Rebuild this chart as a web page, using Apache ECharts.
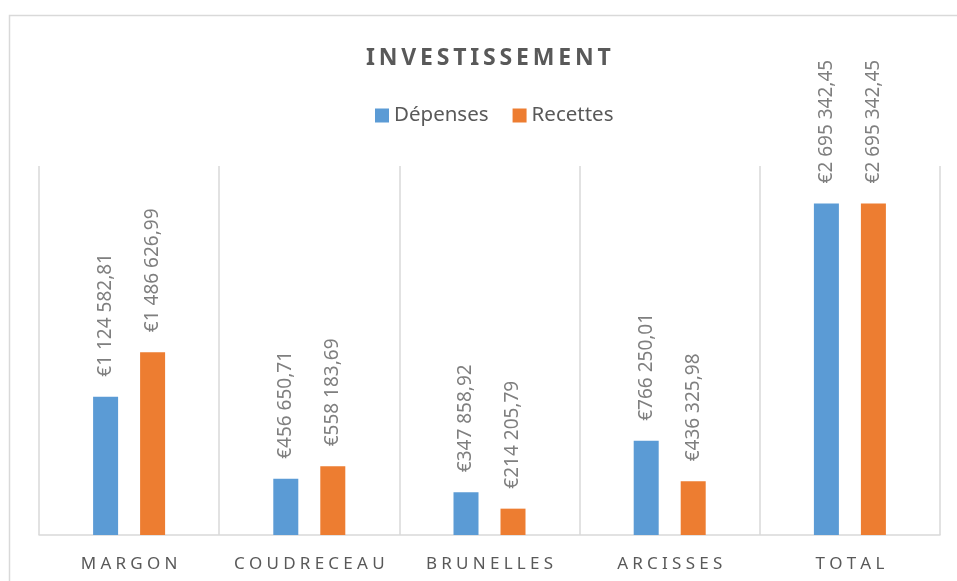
<!DOCTYPE html>
<html>
<head>
<meta charset="utf-8">
<script src="https://cdn.jsdelivr.net/npm/echarts@6/dist/echarts.min.js"></script>
<style>
  html, body { margin: 0; padding: 0; background: #fff; }
  #main { width: 957px; height: 581px; }
</style>
</head>
<body>
<div id="main"></div>
<script>
// données
const categories = ['MARGON', 'COUDRECEAU', 'BRUNELLES', 'ARCISSES', 'TOTAL'];
const depenses = [1124582.81, 456650.71, 347858.92, 766250.01, 2695342.45];
const recettes = [1486626.99, 558183.69, 214205.79, 436325.98, 2695342.45];
const seriesNames = ['Dépenses', 'Recettes'];
const titleText = 'INVESTISSEMENT';

// espacement des lettres (pas de letterSpacing dans echarts)
function spaced(s, sep) {
  return s.split('').join(sep);
}

// format "€1 124 582,81"
function euro(v) {
  const parts = v.toFixed(2).split('.');
  const ent = parts[0].replace(/\B(?=(\d{3})+(?!\d))/g, ' ');
  return '€' + ent + ',' + parts[1];
}

const labelStyle = {
  show: true,
  position: 'top',
  rotate: 90,
  align: 'left',
  verticalAlign: 'middle',
  distance: 20,
  color: '#7f7f7f',
  fontSize: 19,
  fontFamily: 'Noto Sans',
  formatter: p => euro(p.value)
};

const myChart = echarts.init(document.getElementById('main'));
myChart.setOption({
  animation: false,
  textStyle: { fontFamily: 'Noto Sans' },
  color: ['#5B9BD5', '#ED7D31'],
  graphic: [{
    type: 'rect',
    shape: { x: 9.5, y: 15.5, width: 1000, height: 700 },
    style: { fill: 'none', stroke: '#d9d9d9', lineWidth: 1.5 },
    silent: true
  }],
  title: {
    text: spaced(titleText, '\u2009'),
    left: 361,
    top: 42,
    textStyle: { color: '#595959', fontSize: 23, fontWeight: 'bold', fontFamily: 'Noto Sans' }
  },
  legend: {
    top: 100,
    left: 370,
    itemWidth: 14,
    itemHeight: 14,
    itemGap: 24,
    icon: 'rect',
    textStyle: { color: '#595959', fontSize: 20.5, fontFamily: 'Noto Sans' },
    data: seriesNames
  },
  grid: { left: 39, right: 17, top: 166, bottom: 46 },
  xAxis: {
    type: 'category',
    data: categories,
    axisLine: { lineStyle: { color: '#d9d9d9', width: 1.5 } },
    axisTick: { show: false },
    splitLine: { show: true, interval: 0, lineStyle: { color: '#d9d9d9', width: 1.5 } },
    axisLabel: {
      interval: 0,
      color: '#595959',
      fontSize: 17,
      margin: 21,
      formatter: v => spaced(v, '\u2005')
    }
  },
  yAxis: {
    type: 'value',
    min: 0,
    max: 3000000,
    show: false,
    splitLine: { show: false }
  },
  series: [
    { name: seriesNames[0], type: 'bar', data: depenses, barWidth: 25, barGap: '88%', label: labelStyle },
    { name: seriesNames[1], type: 'bar', data: recettes, barWidth: 25, barGap: '88%', label: labelStyle }
  ]
});
</script>
</body>
</html>
